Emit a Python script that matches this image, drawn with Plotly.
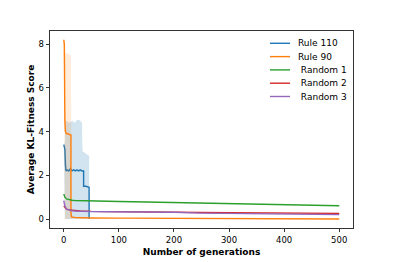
import plotly.graph_objects as go

# ---- data ----
labels = ["Rule 110", "Rule 90", "\u00a0Random 1", "\u00a0Random 2", "\u00a0Random 3"]
colors = ["#1f77b4", "#ff7f0e", "#2ca02c", "#d62728", "#9467bd"]

gens_r110 = [0, 1, 2, 3, 4, 6, 9, 12, 15, 18, 21, 24, 27, 30, 33, 36, 36, 40, 44, 46, 46]
r110 = [3.4, 3.3, 3.2, 2.5, 2.2, 2.25, 2.2, 2.3, 2.2, 2.25, 2.2, 2.25, 2.2, 2.25, 2.2, 2.2, 1.5, 1.5, 1.48, 1.45, 0.0]
band_gens_r110 = [0, 2, 3, 5, 10, 15, 20, 25, 30, 33, 34, 40, 45, 46]
band_hi_r110 = [3.4, 3.5, 4.4, 4.5, 4.4, 4.5, 4.4, 4.55, 4.5, 4.4, 3.1, 3.0, 2.9, 2.9]
band_lo_r110 = [3.4, 0.0, 0.0, 0.0, 0.0, 0.0, 0.0, 0.0, 0.0, 0.0, 0.0, 0.0, 0.0, 0.0]

gens_r90 = [0, 1, 2, 3, 5, 8, 11, 13, 13, 14, 20, 30, 50, 100, 200, 300, 400, 500]
r90 = [8.2, 8.0, 4.5, 4.0, 3.9, 3.9, 3.85, 3.85, 0.3, 0.1, 0.07, 0.06, 0.05, 0.04, 0.03, 0.02, 0.01, 0.0]
band_gens_r90 = [0, 1, 2, 13, 14]
band_hi_r90 = [8.2, 8.1, 7.6, 7.5, 0.1]
band_lo_r90 = [8.2, 7.5, 0.0, 0.0, 0.0]

gens_rand = [0, 2, 5, 10, 15, 20, 30, 50, 75, 100, 150, 200, 250, 300, 350, 400, 450, 500]
rand1 = [1.14, 1.0, 0.92, 0.88, 0.86, 0.85, 0.84, 0.83, 0.82, 0.8, 0.78, 0.76, 0.74, 0.72, 0.69, 0.67, 0.64, 0.61]
rand2 = [0.6, 0.52, 0.45, 0.42, 0.4, 0.38, 0.37, 0.35, 0.34, 0.34, 0.33, 0.32, 0.3, 0.29, 0.28, 0.27, 0.27, 0.26]
rand3 = [0.84, 0.6, 0.45, 0.4, 0.38, 0.37, 0.35, 0.34, 0.33, 0.33, 0.32, 0.31, 0.27, 0.25, 0.23, 0.22, 0.21, 0.2]

x_ticks = [0, 100, 200, 300, 400, 500]
y_ticks = [0, 2, 4, 6, 8]

FONT = "DejaVu Sans"


def rgba(hexc, a):
    h = hexc.lstrip("#")
    r, g, b = int(h[0:2], 16), int(h[2:4], 16), int(h[4:6], 16)
    return f"rgba({r},{g},{b},{a})"


fig = go.Figure()


def band(xs, hi, lo, color, a=0.2):
    fig.add_trace(go.Scatter(
        x=list(xs) + list(xs)[::-1], y=list(hi) + list(lo)[::-1],
        fill="toself", fillcolor=rgba(color, a), line=dict(width=0),
        mode="lines", hoverinfo="skip", showlegend=False))


def line(xs, ys, color, name):
    fig.add_trace(go.Scatter(x=xs, y=ys, mode="lines", name=name,
                             line=dict(color=color, width=1.4), showlegend=False))


band(band_gens_r110, band_hi_r110, band_lo_r110, colors[0])
line(gens_r110, r110, colors[0], labels[0])
band(band_gens_r90, band_hi_r90, band_lo_r90, colors[1], 0.15)
line(gens_r90, r90, colors[1], labels[1])
line(gens_rand, rand1, colors[2], labels[2])
line(gens_rand, rand2, colors[3], labels[3])
line(gens_rand, rand3, colors[4], labels[4])

# plot area in pixels
W, H = 393, 262
L, R, T, B = 50, 40, 31, 34
pw, ph = W - L - R, H - T - B


def px_x(p):
    return (p - L) / pw


def px_y(p):
    return (H - B - p) / ph


shapes, annots = [], []
for i, (lab, col) in enumerate(zip(labels, colors)):
    yy = px_y(43.3 + 13.3 * i)
    shapes.append(dict(type="line", xref="paper", yref="paper",
                       x0=px_x(270), x1=px_x(290), y0=yy, y1=yy,
                       line=dict(color=col, width=1.4)))
    annots.append(dict(xref="paper", yref="paper", x=px_x(296), y=yy,
                       text=lab, showarrow=False, xanchor="left", yanchor="middle",
                       font=dict(family=FONT, size=9, color="black")))

axis_common = dict(showline=True, linecolor="black", linewidth=0.8, mirror=True,
                   ticks="outside", ticklen=3.5, tickwidth=0.8, tickcolor="black",
                   showgrid=False, zeroline=False, automargin=False,
                   tickfont=dict(family=FONT, size=8.5, color="black"))

fig.update_layout(
    width=W, height=H, margin=dict(l=L, r=R, t=T, b=B, autoexpand=False),
    paper_bgcolor="white", plot_bgcolor="white",
    shapes=shapes, annotations=annots,
    xaxis=dict(range=[-25, 525], tickvals=x_ticks,
               title=dict(text="<b>Number of generations</b>", standoff=5,
                          font=dict(family=FONT, size=9, color="black")),
               **axis_common),
    yaxis=dict(range=[-0.41, 8.6], tickvals=y_ticks,
               title=dict(text="<b>Average KL-Fitness Score</b>", standoff=2,
                          font=dict(family=FONT, size=9, color="black")),
               **axis_common),
)

fig.write_html("out.html", config={"displayModeBar": False, "staticPlot": True},
               post_script="document.body.style.margin='0';document.body.style.overflow='hidden';")
